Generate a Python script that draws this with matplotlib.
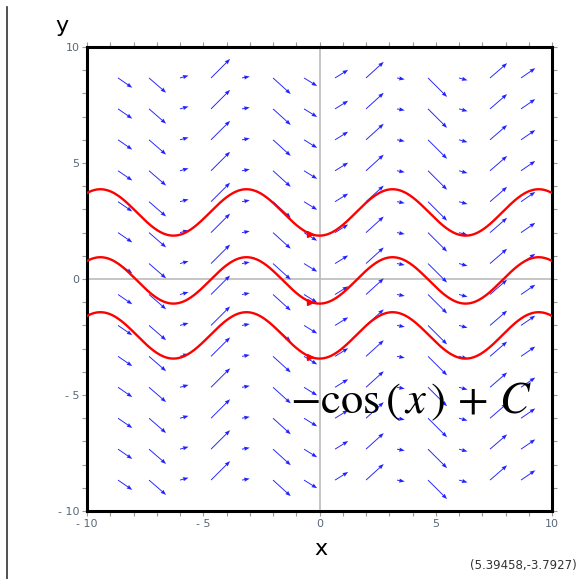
import numpy as np
import matplotlib
matplotlib.use("Agg")
import matplotlib.pyplot as plt
from matplotlib.lines import Line2D

plt.rcParams["mathtext.fontset"] = "stix"

# slope field for dy/dx = sin(x), solutions y = -cos(x) + C
x_min, x_max = -10, 10
y_min, y_max = -10, 10
n_grid = 15                      # arrows on the grid points inside the box
C_values = [2.87, -0.06, -2.43]  # the three clicked trajectories
marker_x = -0.42                 # where the small red heads sit
ticks = list(range(-10, 11))
tick_labels = {-10: "- 10", -5: "- 5", 0: "0", 5: "5", 10: "10"}
coord_text = "(5.39458,-3.7927)"

fig = plt.figure(figsize=(5.79, 5.79), dpi=100)
ax = fig.add_axes([0.1503, 0.1174, 0.8031, 0.8014])

# grid of arrows
gx = np.linspace(x_min, x_max, n_grid + 1)[1:-1]
gy = np.linspace(y_min, y_max, n_grid + 1)[1:-1]
X, Y = np.meshgrid(gx, gy)
U = np.ones_like(X)
V = np.sin(X)
mag = np.hypot(U, V)
# arrow length grows with |v| (between ~0.3 and ~1.16 units)
L = 0.3 + 0.86 * (mag - 1) / (np.sqrt(2) - 1)
ax.quiver(X, Y, U / mag * L, V / mag * L, angles="xy", scale_units="xy", scale=1,
          color="#2222ff", width=0.002, headwidth=4.5, headlength=6,
          headaxislength=5.5, minshaft=0.5, zorder=3)

# axis lines
ax.axhline(0, color="#bbbbbb", lw=1.2, zorder=1)
ax.axvline(0, color="#bbbbbb", lw=1.2, zorder=1)

# trajectories
xs = np.linspace(x_min, x_max, 600)
for C in C_values:
    ax.plot(xs, -np.cos(xs) + C, color="red", lw=1.7, zorder=4)
    ax.plot([marker_x], [-np.cos(marker_x) + C], marker=">", ms=4,
            color="red", zorder=5)

ax.text(-1.27, -5.78, r"$-\cos\left(\,x\,\right)\,+\,C$", fontsize=32,
        ha="left", va="baseline", zorder=6)

ax.set_xlim(x_min, x_max)
ax.set_ylim(y_min, y_max)
ax.set_xticks(ticks)
ax.set_yticks(ticks)
ax.set_xticklabels([tick_labels.get(t, "") for t in ticks])
ax.set_yticklabels([tick_labels.get(t, "") for t in ticks])
ax.tick_params(direction="out", length=3.5, width=0.8, color="#999999",
               labelsize=8, labelcolor="#5a6878", pad=2,
               top=True, right=True)
for s in ax.spines.values():
    s.set_linewidth(2.2)
    s.set_color("black")

fig.text(321 / 579, 1 - 549 / 579, "x", fontsize=16, ha="center", va="center")
fig.text(62 / 579, 1 - 26 / 579, "y", fontsize=16, ha="center", va="center")
fig.text(577 / 579, 1 - 566 / 579, coord_text, fontsize=8.5, color="#333333",
         ha="right", va="center")

fig.add_artist(Line2D([7 / 579, 7 / 579], [0, 1 - 7 / 579], color="#333333",
                      lw=1.2, transform=fig.transFigure))

fig.savefig("out.png", dpi=100)
